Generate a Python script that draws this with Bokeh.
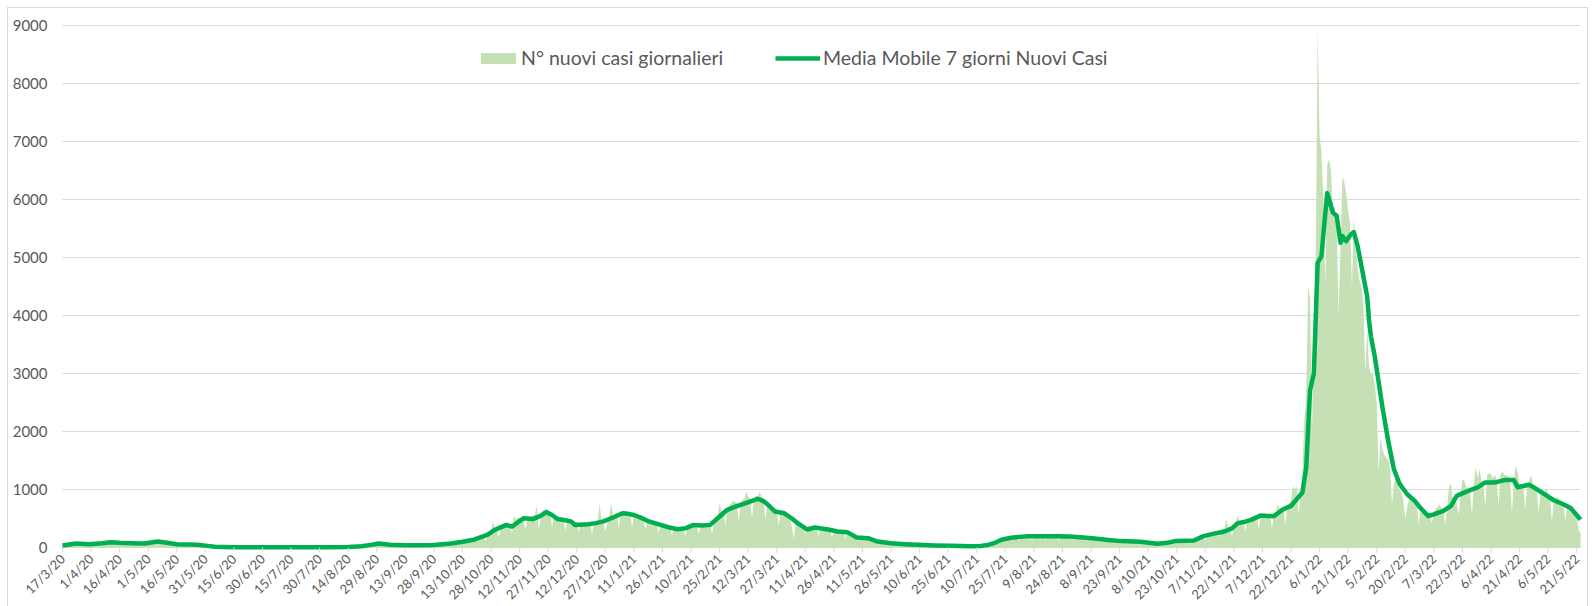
import math
from bokeh.plotting import figure
from bokeh.models import Legend, LegendItem, LabelSet, ColumnDataSource
from bokeh.core.properties import value
from bokeh.embed import file_html
from bokeh.resources import INLINE

# x = days since 17/3/2020 (one label every 15 days)
tick_labels = ["17/3/20", "1/4/20", "16/4/20", "1/5/20", "16/5/20", "31/5/20", "15/6/20", "30/6/20",
               "15/7/20", "30/7/20", "14/8/20", "29/8/20", "13/9/20", "28/9/20", "13/10/20", "28/10/20",
               "12/11/20", "27/11/20", "12/12/20", "27/12/20", "11/1/21", "26/1/21", "10/2/21", "25/2/21",
               "12/3/21", "27/3/21", "11/4/21", "26/4/21", "11/5/21", "26/5/21", "10/6/21", "25/6/21",
               "10/7/21", "25/7/21", "9/8/21", "24/8/21", "8/9/21", "23/9/21", "8/10/21", "23/10/21",
               "7/11/21", "22/11/21", "7/12/21", "22/12/21", "6/1/22", "21/1/22", "5/2/22", "20/2/22",
               "7/3/22", "22/3/22", "6/4/22", "21/4/22", "6/5/22", "21/5/22"]

# daily new cases, one row per week starting 17/3/2020
daily_cases = [
    30, 38, 45, 52, 60, 35, 62,
    70, 72, 68, 75, 66, 40, 62,
    64, 70, 60, 66, 68, 42, 65,
    80, 95, 90, 98, 88, 55, 92,
    85, 90, 82, 88, 80, 52, 78,
    75, 80, 78, 74, 72, 48, 70,
    78, 84, 88, 90, 82, 55, 85,
    130, 110, 100, 96, 92, 62, 90,
    85, 75, 72, 70, 66, 45, 60,
    58, 55, 52, 50, 48, 35, 45,
    42, 38, 36, 34, 30, 20, 28,
    22, 18, 15, 14, 12, 8, 10,
    10, 9, 8, 7, 8, 4, 6,
    6, 5, 6, 5, 4, 2, 4,
    5, 4, 4, 3, 4, 2, 3,
    4, 3, 3, 4, 3, 1, 3,
    3, 4, 3, 2, 3, 1, 2,
    4, 5, 4, 3, 4, 2, 4,
    5, 6, 5, 6, 4, 2, 5,
    7, 6, 8, 6, 7, 3, 6,
    9, 8, 10, 9, 8, 4, 8,
    12, 14, 13, 15, 12, 6, 11,
    18, 22, 26, 25, 28, 14, 24,
    40, 52, 62, 70, 66, 38, 58,
    56, 54, 52, 50, 55, 30, 48,
    45, 42, 44, 40, 42, 26, 38,
    40, 42, 38, 40, 41, 24, 40,
    44, 45, 46, 48, 42, 28, 40,
    50, 58, 60, 62, 58, 36, 58,
    72, 85, 90, 88, 92, 50, 82,
    105, 120, 130, 125, 128, 72, 118,
    160, 185, 200, 210, 195, 110, 190,
    255, 290, 450, 330, 320, 170, 300,
    340, 380, 410, 400, 410, 230, 560,
    480, 520, 500, 490, 510, 300, 480,
    520, 540, 550, 560, 730, 310, 500,
    640, 650, 660, 620, 600, 350, 560,
    540, 520, 510, 490, 480, 290, 470,
    460, 450, 440, 430, 450, 260, 420,
    420, 430, 410, 440, 430, 250, 420,
    440, 460, 765, 450, 440, 280, 420,
    520, 765, 560, 580, 600, 330, 560,
    620, 640, 600, 620, 610, 340, 560,
    560, 540, 520, 500, 490, 300, 460,
    480, 460, 440, 430, 420, 250, 400,
    400, 380, 370, 360, 350, 210, 340,
    360, 350, 340, 340, 350, 200, 330,
    390, 400, 410, 400, 420, 230, 390,
    400, 420, 410, 400, 430, 240, 420,
    480, 560, 765, 620, 650, 380, 640,
    720, 760, 800, 790, 780, 450, 740,
    820, 840, 965, 880, 850, 500, 820,
    900, 880, 965, 880, 860, 480, 780,
    760, 720, 700, 680, 660, 380, 620,
    640, 620, 600, 570, 540, 330, 150,
    460, 440, 420, 400, 380, 230, 360,
    370, 360, 350, 340, 340, 200, 330,
    330, 320, 320, 310, 300, 180, 290,
    300, 290, 290, 280, 270, 160, 260,
    240, 220, 200, 190, 180, 110, 170,
    170, 165, 160, 155, 150, 90, 140,
    120, 115, 110, 100, 95, 60, 90,
    85, 80, 78, 72, 70, 45, 65,
    62, 60, 58, 56, 55, 35, 52,
    50, 48, 48, 46, 45, 28, 42,
    42, 40, 40, 38, 38, 24, 36,
    34, 32, 32, 30, 30, 18, 28,
    25, 24, 22, 24, 22, 12, 20,
    20, 22, 24, 24, 26, 14, 25,
    32, 40, 50, 62, 72, 45, 80,
    95, 110, 130, 145, 155, 90, 150,
    160, 170, 180, 185, 175, 110, 170,
    195, 200, 205, 210, 200, 120, 195,
    205, 210, 215, 210, 205, 125, 200,
    205, 200, 205, 210, 200, 120, 195,
    200, 205, 200, 205, 195, 120, 190,
    185, 190, 185, 180, 180, 110, 175,
    170, 165, 165, 160, 158, 95, 150,
    145, 140, 138, 135, 130, 80, 125,
    120, 118, 115, 112, 110, 68, 105,
    108, 105, 105, 102, 100, 62, 98,
    95, 92, 90, 86, 85, 52, 80,
    80, 78, 78, 76, 80, 48, 82,
    100, 110, 115, 112, 118, 70, 110,
    120, 125, 128, 130, 125, 78, 128,
    150, 170, 190, 200, 205, 125, 200,
    230, 250, 270, 280, 275, 170, 270,
    290, 310, 505, 330, 340, 200, 330,
    400, 560, 440, 460, 470, 280, 450,
    500, 520, 540, 530, 540, 320, 510,
    560, 580, 570, 575, 580, 330, 560,
    600, 746, 680, 690, 700, 400, 680,
    760, 820, 1060, 1000, 1060, 560, 950,
    1300, 2200, 2600, 4500, 4300, 1900, 4000,
    5000, 8950, 7100, 6800, 6000, 4500, 6600,
    6700, 6500, 5800, 5900, 5500, 4000, 5200,
    6400, 6300, 6100, 5800, 5600, 4500, 5700,
    5200, 4800, 4600, 4500, 4200, 3000, 3800,
    3100, 3000, 3000, 2800, 2500, 1300, 1900,
    1700, 1600, 1550, 1500, 1400, 750, 1100,
    1200, 1100, 1000, 950, 800, 500, 700,
    850, 800, 820, 780, 760, 400, 650,
    620, 600, 580, 560, 540, 420, 620,
    660, 700, 740, 680, 650, 380, 700,
    1060, 1090, 820, 800, 780, 560, 900,
    1180, 1150, 1050, 1000, 980, 560, 1100,
    1390, 1200, 1350, 1150, 1100, 700, 1250,
    1280, 1270, 1200, 1260, 1150, 720, 1250,
    1320, 1250, 1240, 1230, 1200, 580, 1150,
    1410, 1300, 1100, 1000, 1050, 650, 1050,
    1150, 1240, 1100, 1050, 1000, 600, 950,
    1000, 950, 1035, 920, 880, 450, 800,
    850, 860, 820, 800, 760, 450, 700,
    746, 700, 650, 600, 560, 300, 250,
]

# 7-day moving average, read at these days since 17/3/2020
ma_day = [0, 7, 14, 21, 25, 30, 36, 43, 50, 53, 60, 66, 71, 76, 80, 90, 100, 120, 140, 150,
          157, 162, 166, 172, 180, 188, 195, 204, 210, 216, 223, 227, 233, 236, 242, 247, 251, 254,
          257, 260, 264, 267, 269, 276, 280, 284, 290, 294, 297, 300, 304, 307, 314, 318, 323, 327,
          331, 336, 340, 344, 349, 353, 356, 361, 365, 368, 371, 374, 379, 383, 386, 391, 395, 402,
          407, 412, 417, 423, 428, 435, 442, 449, 458, 466, 477, 482, 486, 489, 493, 498, 507, 515,
          522, 529, 536, 542, 549, 556, 566, 575, 580, 584, 590, 594, 599, 604, 610, 614, 617, 621,
          624, 629, 633, 636, 641, 645, 648, 651, 653, 655, 657, 659, 661, 662, 664, 665, 667, 669,
          671, 672, 674, 676, 678, 680, 683, 685, 686, 687, 689, 691, 693, 696, 699, 702, 706, 710,
          713, 717, 720, 725, 729, 732, 738, 743, 747, 752, 757, 762, 764, 767, 770, 774, 778, 783,
          788, 792, 797]
ma_value = [35, 70, 58, 75, 90, 80, 74, 68, 103, 92, 57, 50, 46, 28, 12, 6, 4, 3, 5, 10,
            22, 45, 68, 48, 40, 38, 42, 70, 100, 135, 218, 305, 390, 360, 505, 490, 545, 610,
            560, 490, 470, 450, 390, 400, 420, 450, 530, 590, 580, 560, 510, 460, 390, 350, 316, 330,
            386, 380, 390, 505, 650, 700, 736, 793, 840, 800, 720, 620, 590, 500, 420, 310, 345, 310,
            276, 265, 172, 160, 103, 75, 58, 46, 36, 30, 20, 25, 45, 74, 133, 167, 196, 196,
            194, 190, 172, 155, 130, 110, 100, 64, 80, 110, 118, 120, 196, 235, 276, 330, 420, 445,
            477, 550, 545, 540, 659, 717, 832, 948, 1381, 2711, 3000, 4908, 5023, 5400, 6110, 6000, 5775, 5717,
            5254, 5370, 5283, 5380, 5439, 5197, 4676, 4329, 3900, 3636, 3289, 2855, 2422, 1844, 1353, 1100, 919, 803,
            680, 543, 572, 630, 717, 890, 977, 1035, 1121, 1121, 1162, 1162, 1040, 1060, 1081, 1006, 919, 815,
            746, 676, 480]

y_ticks = [0, 1000, 2000, 3000, 4000, 5000, 6000, 7000, 8000, 9000]

days = list(range(len(daily_cases)))
last_day = len(daily_cases) - 1
tick_days = [15 * i for i in range(len(tick_labels))]
TEXT = "#595959"
GRID = "#D9D9D9"

# layout in pixels: the plotting frame covers the whole chart area, the plot
# area proper (0..last_day, 0..9000) sits inside it and the axes are drawn by hand
W, H = 1579, 598
PA_LEFT, PA_RIGHT, PA_TOP, PA_BOTTOM = 54, 7, 17, 59
xpx = last_day / (W - PA_LEFT - PA_RIGHT)      # days per pixel
upx = 9000 / (H - PA_TOP - PA_BOTTOM)          # cases per pixel

p = figure(width=W, height=H, output_backend="svg", toolbar_location=None,
           x_range=(-PA_LEFT * xpx, last_day + PA_RIGHT * xpx),
           y_range=(-PA_BOTTOM * upx, 9000 + PA_TOP * upx),
           x_axis_location=None, y_axis_location=None,
           min_border=0, background_fill_color="white", border_fill_color="white")
p.outline_line_color = None
p.styles = {"margin": "8px 0 0 8px", "outline": "1px solid #D9D9D9"}
for g in list(p.xgrid) + list(p.ygrid):
    g.grid_line_color = None

# horizontal gridlines and value labels
ysrc = ColumnDataSource(dict(y=y_ticks, text=[str(t) for t in y_ticks]))
p.segment(x0=0, y0="y", x1=last_day, y1="y", source=ysrc, line_color=GRID, line_width=1)
p.add_layout(LabelSet(x=-15 * xpx, y="y", text="text", source=ysrc,
                      text_align="right", text_baseline="middle",
                      text_font=value("Lato"), text_font_size=value("15px"), text_color=TEXT))

area = p.varea(x=days, y1=[0] * len(days), y2=daily_cases, fill_color="#C5E0B4", fill_alpha=1.0)
line = p.line(ma_day, ma_value, line_color="#00B050", line_width=4.5, line_join="round")

# category axis: tick marks and rotated date labels
tick_src = ColumnDataSource(dict(x=tick_days, text=tick_labels))
p.segment(x0="x", y0=0, x1="x", y1=-5 * upx, source=tick_src, line_color=GRID, line_width=1)
p.add_layout(LabelSet(x="x", y=-9 * upx, text="text", source=tick_src,
                      angle=math.pi / 4, text_align="right", text_baseline="middle",
                      text_font=value("Lato"), text_font_size=value("13px"), text_color=TEXT))

def make_legend(item, loc, gw, standoff):
    return Legend(items=[item], location=loc, orientation="horizontal",
                  border_line_color=None, background_fill_alpha=0, padding=0, margin=0,
                  glyph_width=gw, glyph_height=14, label_height=14, label_standoff=standoff,
                  label_text_font="Lato", label_text_font_size="19.5px", label_text_color=TEXT)

p.add_layout(make_legend(LegendItem(label="N° nuovi casi giornalieri", renderers=[area]), (468, 537), 44, 1))
p.add_layout(make_legend(LegendItem(label="Media Mobile 7 giorni Nuovi Casi", renderers=[line]), (767, 537), 45, 3))

open("out.html", "w").write(file_html(p, INLINE))
